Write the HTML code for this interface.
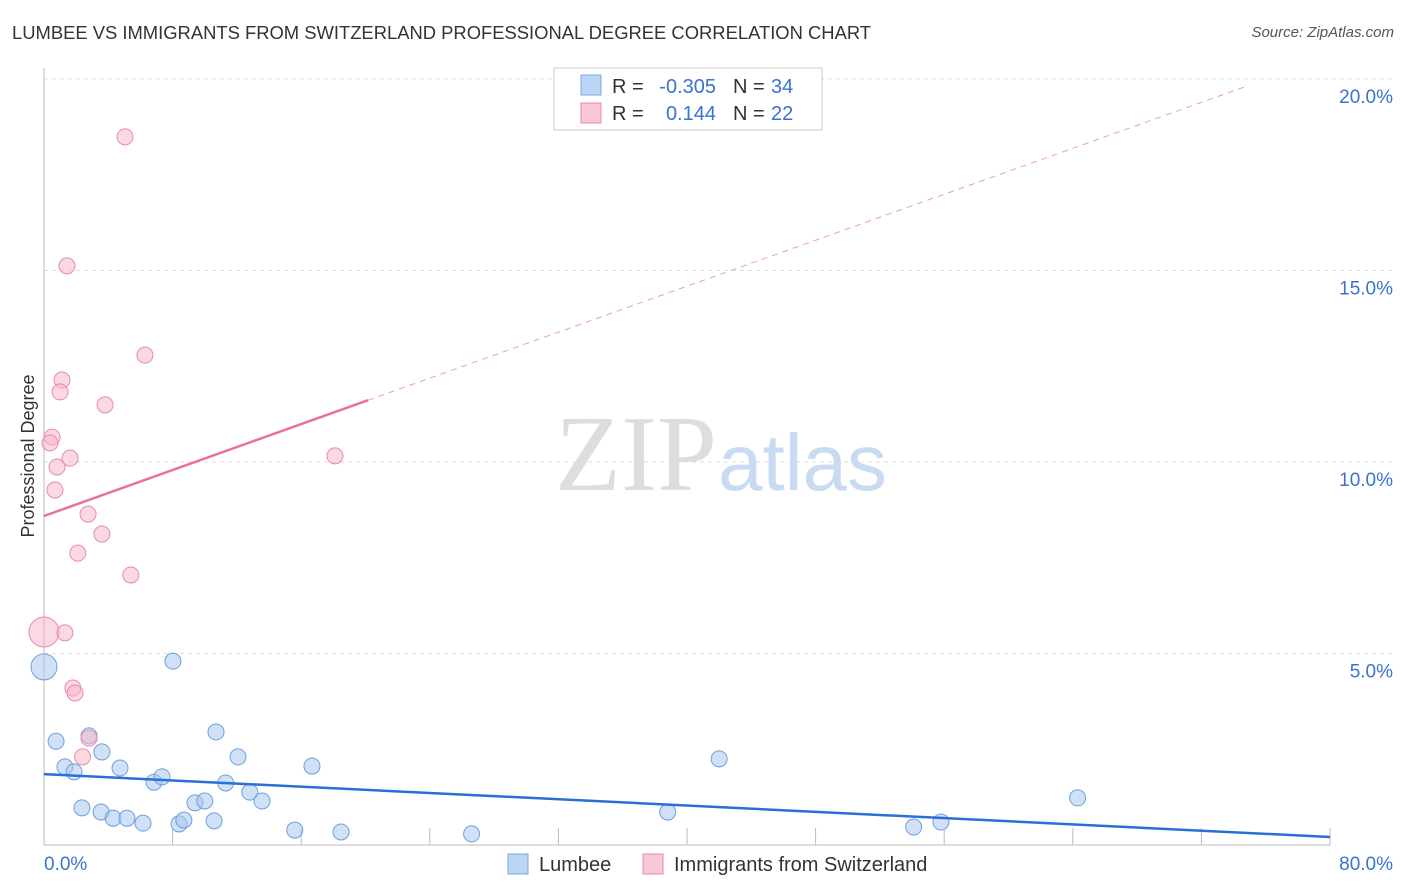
<!DOCTYPE html>
<html><head><meta charset="utf-8"><style>
body{margin:0;background:#fff;font-family:"Liberation Sans",sans-serif;}
#wrap{position:relative;width:1406px;height:892px;overflow:hidden;}
.t{position:absolute;white-space:nowrap;}
</style></head><body>
<div id="wrap">
<div class="t" style="left:12px;top:22px;font-size:18.4px;color:#333;">LUMBEE VS IMMIGRANTS FROM SWITZERLAND PROFESSIONAL DEGREE CORRELATION CHART</div>
<div class="t" style="right:12px;top:24px;font-size:15px;color:#555;font-style:italic;">Source: ZipAtlas.com</div>
<svg id="svg" width="1406" height="892" style="position:absolute;left:0;top:0"></svg>
</div>
<script>
const blueX=[0,0.75,1.3,1.87,2.36,2.8,3.55,3.6,4.3,4.73,5.16,6.16,6.84,7.34,8.02,8.4,8.7,9.39,10.0,10.58,10.7,11.3,12.07,12.8,13.56,15.6,16.67,18.48,26.6,38.8,42.0,54.1,55.8,64.3];
const blueY=[4.65,2.71,2.04,1.91,0.97,2.85,0.86,2.43,0.7,2.01,0.7,0.57,1.64,1.78,4.8,0.55,0.65,1.1,1.15,0.63,2.95,1.62,2.3,1.38,1.15,0.39,2.06,0.34,0.29,0.86,2.25,0.47,0.6,1.23];
const pinkX=[5.04,1.43,6.28,1.12,1.0,3.8,0.5,0.37,1.62,18.1,0.81,0.68,2.74,3.6,2.1,5.4,0,1.3,1.8,1.93,2.8,2.4];
const pinkY=[18.49,15.12,12.79,12.14,11.83,11.49,10.65,10.5,10.1,10.16,9.87,9.27,8.64,8.12,7.62,7.05,5.56,5.54,4.1,3.97,2.79,2.3];
const yTicks=[5,10,15,20];
const xTickLabels=["0.0%","80.0%"];
const blueLine=[1.85,0.21];
const pinkLine=[8.59,0.15];
const X=v=>44+v*16.075, Y=v=>845-v*38.3;
const svg=document.getElementById('svg');const NS='http://www.w3.org/2000/svg';
function mk(tag,attrs,name,parent){const e=document.createElementNS(NS,tag);for(const k in attrs)e.setAttribute(k,attrs[k]);


(parent||svg).appendChild(e);return e;}
yTicks.forEach(v=>{mk('line',{x1:44,x2:1395,y1:Y(v),y2:Y(v),stroke:'#ddd','stroke-dasharray':'4,4'},'y-gridline');
const t=mk('text',{x:1393,y:Y(v)+24,'text-anchor':'end','font-size':19,fill:'#3a72d0'},'y-tick-label');t.textContent=v.toFixed(1)+'%';});
mk('line',{x1:44,x2:44,y1:68,y2:845,stroke:'#bbb'},'y-axis');
mk('line',{x1:44,x2:1330,y1:845,y2:845,stroke:'#bbb'},'x-axis');
for(let i=1;i<=10;i++){mk('line',{x1:X(i*8),x2:X(i*8),y1:828,y2:845,stroke:'#bbb'},'x-tick');}
let t=mk('text',{x:44,y:870,'font-size':19,fill:'#3a72d0'},'x-tick-label');t.textContent=xTickLabels[0];
t=mk('text',{x:1393,y:870,'text-anchor':'end','font-size':19,fill:'#3a72d0'},'x-tick-label');t.textContent=xTickLabels[1];
t=mk('text',{x:34,y:456,'font-size':18,fill:'#333','text-anchor':'middle',transform:'rotate(-90 34 456)'},'y-axis-title');t.textContent='Professional Degree';
t=mk('text',{x:555,y:490,'font-size':108,fill:'#ddd','font-family':'Liberation Serif'},'watermark-zip');t.textContent='ZIP';
t=mk('text',{x:718,y:490,'font-size':80,fill:'#c9dbf2'},'watermark-atlas');t.textContent='atlas';
blueX.forEach((x,i)=>{mk('circle',{cx:X(x),cy:Y(blueY[i]),r:i==0?13:8,fill:'#a9c8f0','fill-opacity':0.55,stroke:'#6f9fdc','stroke-width':1},'lumbee-point');});
pinkX.forEach((x,i)=>{mk('circle',{cx:X(x),cy:Y(pinkY[i]),r:x==0?15:8,fill:'#f7b8cb','fill-opacity':0.55,stroke:'#e88aa8','stroke-width':1},'switzerland-point');});
mk('line',{x1:X(0),y1:Y(blueLine[0]),x2:X(80),y2:Y(blueLine[1]),stroke:'#2a6fd6','stroke-width':2.5},'lumbee-trendline');
const pf=x=>pinkLine[0]+pinkLine[1]*x;
mk('line',{x1:X(0),y1:Y(pf(0)),x2:X(20.16),y2:Y(pf(20.16)),stroke:'#e8709a','stroke-width':2.5},'switzerland-trendline');
mk('line',{x1:X(20.16),y1:Y(pf(20.16)),x2:X(74.7),y2:Y(pf(74.7)),stroke:'#e8a0b8','stroke-width':1,'stroke-dasharray':'6,5'},'switzerland-trendline-extension');
mk('rect',{x:554,y:68,width:268,height:62,fill:'#fff',stroke:'#ccc'},'legend-box');
mk('rect',{x:581,y:75,width:20,height:20,fill:'#bcd5f5',stroke:'#7aa8e0'},'legend-swatch-lumbee');
mk('rect',{x:581,y:103,width:20,height:20,fill:'#fac7d6',stroke:'#e88aa8'},'legend-swatch-switzerland');
function tx(x,y,s,c,n,anchor){const e=mk('text',{x:x,y:y,'font-size':20,fill:c,'text-anchor':anchor||'start'},n);e.textContent=s;}
tx(612,93,'R =','#333','legend-r-label');tx(716,93,'-0.305','#3a72d0','legend-r-lumbee','end');
tx(733,93,'N =','#333','legend-n-label');tx(771,93,'34','#3a72d0','legend-n-lumbee');
tx(612,120,'R =','#333','legend-r-label');tx(716,120,'0.144','#3a72d0','legend-r-switzerland','end');
tx(733,120,'N =','#333','legend-n-label');tx(771,120,'22','#3a72d0','legend-n-switzerland');
mk('rect',{x:508,y:854,width:20,height:20,fill:'#bcd5f5',stroke:'#7aa8e0'},'bottom-legend-swatch-lumbee');
tx(539,871,'Lumbee','#333','bottom-legend-lumbee');
mk('rect',{x:643,y:854,width:20,height:20,fill:'#fac7d6',stroke:'#e88aa8'},'bottom-legend-swatch-switzerland');
tx(674,871,'Immigrants from Switzerland','#333','bottom-legend-switzerland');
</script>
</body></html>
